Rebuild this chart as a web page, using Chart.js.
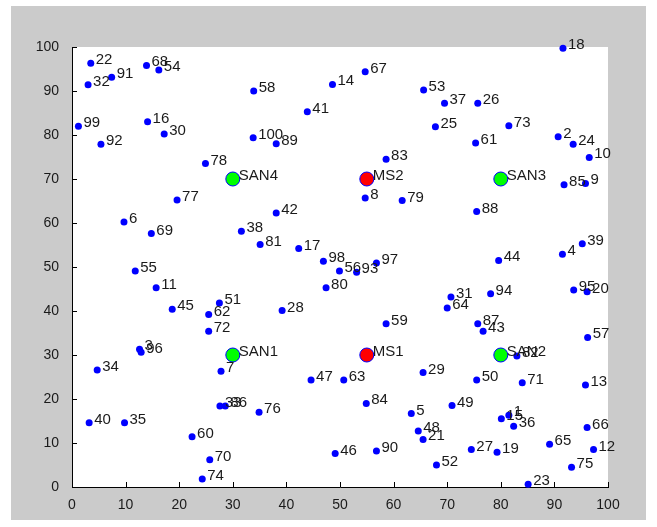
<!DOCTYPE html>
<html>
<head>
<meta charset="utf-8">
<script src="https://cdn.jsdelivr.net/npm/chart.js@4"></script>
<style>
    body { margin: 0; background: #ffffff; }
    canvas { display: block; }
</style>
</head>
<body>
<canvas id="nodeChart" width="657" height="527"></canvas>
<script>
// Sensor nodes, id 1..100
const nodeIds = [1, 2, 3, 4, 5, 6, 7, 8, 9, 10, 11, 12, 13, 14, 15, 16, 17, 18, 19, 20,
    21, 22, 23, 24, 25, 26, 27, 28, 29, 30, 31, 32, 33, 34, 35, 36, 37, 38, 39, 40,
    41, 42, 43, 44, 45, 46, 47, 48, 49, 50, 51, 52, 53, 54, 55, 56, 57, 58, 59, 60,
    61, 62, 63, 64, 65, 66, 67, 68, 69, 70, 71, 72, 73, 74, 75, 76, 77, 78, 79, 80,
    81, 82, 83, 84, 85, 86, 87, 88, 89, 90, 91, 92, 93, 94, 95, 96, 97, 98, 99, 100];
const nodeX = [81.5, 90.7, 12.6, 91.5, 63.3, 9.7, 27.8, 54.7, 95.8, 96.5,
    15.7, 97.3, 95.8, 48.6, 80.1, 14.1, 42.3, 91.6, 79.3, 96.1,
    65.5, 3.5, 85.1, 93.5, 67.8, 75.7, 74.5, 39.2, 65.5, 17.2,
    70.7, 3.0, 27.6, 4.7, 9.8, 82.4, 69.5, 31.6, 95.2, 3.2,
    43.9, 38.1, 76.7, 79.6, 18.7, 49.1, 44.6, 64.6, 70.9, 75.5,
    27.5, 68.0, 65.6, 16.2, 11.8, 49.9, 96.2, 33.9, 58.6, 22.4,
    75.3, 25.5, 50.7, 70.0, 89.1, 96.1, 54.7, 13.9, 14.8, 25.7,
    84.0, 25.5, 81.5, 24.3, 93.2, 34.9, 19.6, 24.9, 61.6, 47.4,
    35.1, 83.0, 58.6, 54.9, 91.8, 28.6, 75.7, 75.5, 38.1, 56.8,
    7.4, 5.4, 53.1, 78.1, 93.6, 12.9, 56.8, 46.9, 1.2, 33.8];
const nodeY = [16.3, 79.6, 31.3, 52.9, 16.7, 60.2, 26.3, 65.7, 69.0, 74.9,
    45.3, 8.5, 23.2, 91.5, 15.5, 83.0, 54.2, 99.7, 7.9, 44.4,
    10.8, 96.3, 0.6, 77.9, 81.9, 87.2, 8.5, 40.1, 26.0, 80.2,
    43.2, 91.4, 18.4, 26.6, 14.6, 13.8, 87.2, 58.1, 55.3, 14.6,
    85.3, 62.3, 35.4, 51.5, 40.4, 7.6, 24.3, 12.7, 18.5, 24.3,
    41.8, 5.0, 90.2, 94.8, 49.1, 49.1, 34.0, 90.0, 37.1, 11.4,
    78.2, 39.2, 24.3, 40.7, 9.7, 13.5, 94.4, 95.8, 57.6, 6.2,
    23.7, 35.4, 82.1, 1.8, 4.5, 17.0, 65.2, 73.5, 65.1, 45.3,
    55.1, 29.8, 74.5, 19.0, 68.7, 18.4, 37.1, 62.6, 78.0, 8.2,
    93.1, 77.9, 48.8, 43.9, 44.8, 30.6, 50.9, 51.3, 82.0, 79.4];

// Sinks
const sanNames = ['SAN1', 'SAN2', 'SAN3', 'SAN4'];
const sanX = [30, 80, 80, 30];
const sanY = [30, 30, 70, 70];

const msNames = ['MS1', 'MS2'];
const msX = [55, 55];
const msY = [30, 70];

const axisTicks = [0, 10, 20, 30, 40, 50, 60, 70, 80, 90, 100];

const toPoints = (xs, ys) => xs.map((x, i) => ({x: x, y: ys[i]}));

// grey figure + white axes
const background = {
    id: 'background',
    beforeDraw(chart) {
        const c = chart.ctx;
        const a = chart.chartArea;
        c.save();
        c.fillStyle = '#ffffff';
        c.fillRect(0, 0, chart.width, chart.height);
        c.fillStyle = '#cbcbcb';
        c.fillRect(11, 6, 635, 514);
        c.fillStyle = '#ffffff';
        c.fillRect(a.left, a.top, a.right - a.left, a.bottom - a.top);
        c.restore();
    }
};

// inward tick marks like matlab
const innerTicks = {
    id: 'innerTicks',
    afterDraw(chart) {
        const c = chart.ctx;
        const a = chart.chartArea;
        const sx = chart.scales.x;
        const sy = chart.scales.y;
        c.save();
        c.strokeStyle = '#000000';
        c.lineWidth = 1;
        c.beginPath();
        axisTicks.forEach(t => {
            const px = Math.round(sx.getPixelForValue(t)) + 0.5;
            c.moveTo(px, a.bottom);
            c.lineTo(px, a.bottom - 5);
            const py = Math.round(sy.getPixelForValue(t)) + 0.5;
            c.moveTo(a.left, py);
            c.lineTo(a.left + 5, py);
        });
        c.stroke();
        c.restore();
    }
};

// text next to every marker
const pointLabels = {
    id: 'pointLabels',
    afterDraw(chart) {
        const c = chart.ctx;
        c.save();
        c.fillStyle = '#1a1a1a';
        c.font = '15px "Liberation Sans", Arial, sans-serif';
        c.textAlign = 'left';
        c.textBaseline = 'alphabetic';
        chart.data.datasets.forEach((ds, di) => {
            const meta = chart.getDatasetMeta(di);
            meta.data.forEach((el, i) => {
                const off = ds.pointRadius > 5 ? 6 : 5;
                c.fillText(ds.names[i], el.x + off, el.y + 1);
            });
        });
        c.restore();
    }
};

const ctx = document.getElementById('nodeChart').getContext('2d');
new Chart(ctx, {
    type: 'scatter',
    data: {
        datasets: [{
            label: 'Nodes',
            names: nodeIds.map(String),
            data: toPoints(nodeX, nodeY),
            backgroundColor: '#0000ff',
            borderColor: '#0000ff',
            borderWidth: 0,
            pointRadius: 3.5,
            clip: false
        },
            {
                label: 'SAN',
                names: sanNames,
                data: toPoints(sanX, sanY),
                backgroundColor: '#00ff00',
                borderColor: '#0000ff',
                borderWidth: 1,
                pointRadius: 7,
                clip: false
            },
            {
                label: 'MS',
                names: msNames,
                data: toPoints(msX, msY),
                backgroundColor: '#ff0000',
                borderColor: '#0000ff',
                borderWidth: 1,
                pointRadius: 7,
                clip: false
            }
        ]
    },
    options: {
        responsive: false,
        animation: false,
        devicePixelRatio: 1,
        layout: {
            padding: {left: 22, right: 49, top: 47, bottom: 10}
        },
        plugins: {
            legend: {display: false},
            tooltip: {enabled: false}
        },
        scales: {
            x: {
                type: 'linear',
                min: 0,
                max: 100,
                afterFit: s => { s.height = 30; },
                afterBuildTicks: s => { s.ticks = axisTicks.map(v => ({value: v})); },
                grid: {display: false},
                border: {display: true, color: '#000000', width: 1},
                ticks: {
                    padding: 2,
                    color: '#1a1a1a',
                    font: {family: '"Liberation Sans", Arial, sans-serif', size: 14}
                }
            },
            y: {
                type: 'linear',
                min: 0,
                max: 100,
                afterFit: s => { s.width = 50; },
                afterBuildTicks: s => { s.ticks = axisTicks.map(v => ({value: v})); },
                grid: {display: false},
                border: {display: true, color: '#000000', width: 1},
                ticks: {
                    padding: 5,
                    color: '#1a1a1a',
                    font: {family: '"Liberation Sans", Arial, sans-serif', size: 14}
                }
            }
        }
    },
    plugins: [background, innerTicks, pointLabels]
});
</script>
</body>
</html>
